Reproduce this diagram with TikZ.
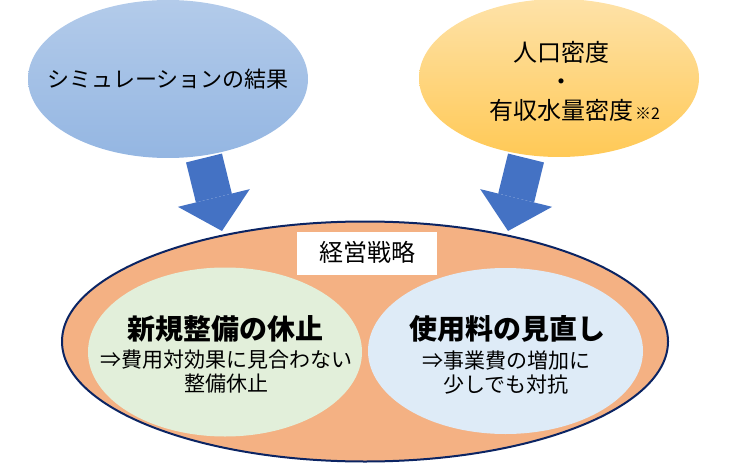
\documentclass[tikz,border=0pt]{standalone}
\usepackage{fontspec}
\setmainfont{Noto Sans CJK JP}
\usetikzlibrary{arrows.meta,shapes.geometric}
\definecolor{simtop}{HTML}{B3CBEA}
\definecolor{simbot}{HTML}{94B6E2}
\definecolor{dentop}{HTML}{FEE2A8}
\definecolor{denbot}{HTML}{FFC956}
\definecolor{arrowblue}{HTML}{4472C4}
\definecolor{strat}{HTML}{F4B183}
\definecolor{navy}{HTML}{0B2463}
\definecolor{newgreen}{HTML}{E2EFDA}
\definecolor{feeblue}{HTML}{DEEBF7}
\tikzset{
  ovalB/.style={ellipse, inner sep=0pt, minimum width=280pt, minimum height=158pt,
    top color=simtop, bottom color=simbot},
  ovalY/.style={ellipse, inner sep=0pt, minimum width=280pt, minimum height=158pt,
    top color=dentop, bottom color=denbot},
  bigoval/.style={ellipse, inner sep=0pt, minimum width=606pt, minimum height=240pt,
    fill=strat, draw=navy, line width=2pt},
  subG/.style={ellipse, inner sep=0pt, minimum width=274pt, minimum height=169pt, fill=newgreen},
  subB/.style={ellipse, inner sep=0pt, minimum width=275pt, minimum height=166pt, fill=feeblue},
  tagbox/.style={rectangle, inner sep=0pt, minimum width=140pt, minimum height=43pt, fill=white},
  blockarr/.style={draw=arrowblue, line width=37pt,
    -{Triangle[length=34pt, width=74pt, line width=0pt]}},
  lab/.style={inner sep=0pt, align=center, font=\fontsize{22}{26}\selectfont},
  labL/.style={inner sep=0pt, align=center, font=\fontsize{24}{29}\selectfont},
  labT/.style={inner sep=0pt, align=center, font=\fontsize{28}{32}\selectfont\bfseries},
  labS/.style={inner sep=0pt, align=center, font=\fontsize{21}{24}\selectfont}
}
\begin{document}
\begin{tikzpicture}[x=1pt,y=-1pt]
  \useasboundingbox (0,0) rectangle (730,465);

  \node[ovalB] (sim) at (168,79) {};
  \node[ovalY] (dens) at (559,78) {};
  \node[lab] (tsim) at (sim) {シミュレーションの結果};
  \node[labL] (tdens) at (561,81)
    {人口密度\\・\\有収水量密度\rlap{\hspace{2pt}\fontsize{16}{16}\selectfont ※2}};

  % arrows into the strategy oval
  \coordinate (a1s) at (204,158);
  \coordinate (a1e) at (222,231);
  \coordinate (a2s) at (526,158);
  \coordinate (a2e) at (508,231);
  \draw[blockarr] (a1s) -- (a1e);
  \draw[blockarr] (a2s) -- (a2e);

  \node[bigoval] (plan) at (365,341.5) {};
  \node[subG] (newp) at (225,352) {};
  \node[subB] (fee) at (505.5,351) {};
  \node[tagbox] (tag) at (367,253.5) {};
  \node[labL] (ttag) at (367,252) {経営戦略};

  \node[labT] (tnew1) at (225,329) {新規整備の休止};
  \node[labS] (tnew2) at (226,372) {⇒費用対効果に見合わない\\整備休止};
  \node[labT] (tfee1) at (507,329) {使用料の見直し};
  \node[labS] (tfee2) at (506,373) {⇒事業費の増加に\\少しでも対抗};
\end{tikzpicture}
\end{document}
